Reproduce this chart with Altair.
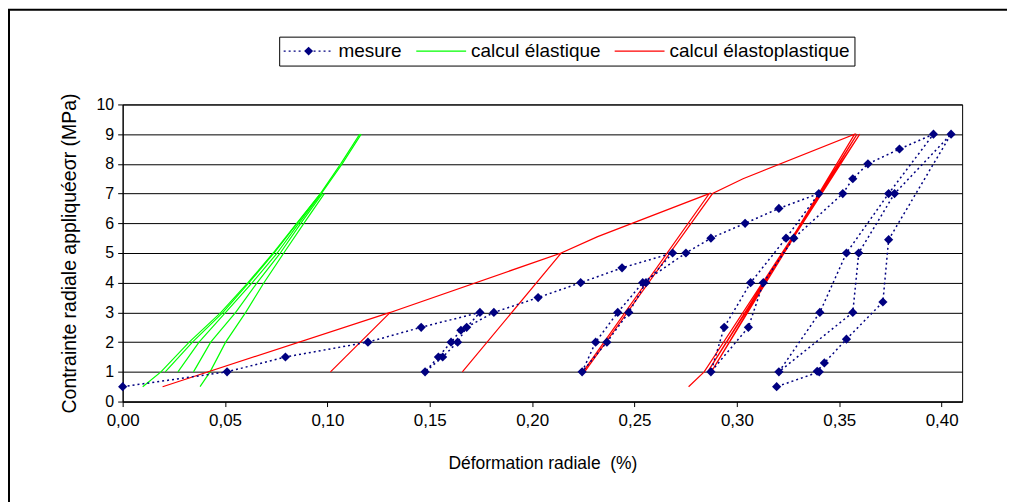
import altair as alt
import pandas as pd

# ---------------- data ----------------
# mesure (ordered test path)
mes_x = [0.000, 0.051, 0.0795, 0.1198, 0.1458, 0.1745, 0.168, 0.1636, 0.1563, 0.1477,
         0.1542, 0.1604, 0.1652, 0.1813, 0.2029, 0.2237, 0.2439, 0.2686, 0.2556, 0.2472,
         0.2365, 0.2244, 0.231, 0.2418, 0.254, 0.2751, 0.2873, 0.304, 0.3205, 0.340,
         0.324, 0.3067, 0.2938, 0.2873, 0.3056, 0.3129, 0.3278, 0.3517, 0.3566, 0.364,
         0.3794, 0.396, 0.3741, 0.3535, 0.3405, 0.3205, 0.3566, 0.3595, 0.377, 0.4046,
         0.3741, 0.3713, 0.3535, 0.3427, 0.3392, 0.3402, 0.3194]
mes_y = [0.5, 1, 1.5, 2, 2.5, 3, 2.5, 2, 1.5, 1,
         1.5, 2, 2.4, 3, 3.5, 4, 4.5, 5, 4, 3,
         2, 1, 2, 3, 4, 5, 5.5, 6, 6.5, 7,
         5.5, 4, 2.5, 1, 2.5, 4, 5.5, 7, 7.5, 8,
         8.5, 9, 7, 5, 3, 1, 3, 5, 7, 9,
         5.45, 3.35, 2.1, 1.3, 1.02, 1.0, 0.5]

# calcul élastoplastique (ordered path)
ep_x = [0.0195, 0.1307, 0.1015, 0.1307, 0.2142, 0.1659, 0.2142, 0.232, 0.2865, 0.2248,
        0.2256, 0.2881, 0.303, 0.3575, 0.2875, 0.3587, 0.2857, 0.3600, 0.284, 0.2764]
ep_y = [0.5, 3, 1, 3, 5, 1, 5, 5.55, 7, 1,
        1, 7, 7.5, 9, 1, 9, 1, 9, 1, 0.5]

# calcul élastique (several curves)
el_id = ([1] * 10) + ([2] * 7) + ([3] * 9) + ([4] * 7) + ([5] * 8)
el_x = [0.0098, 0.0187, 0.0325, 0.0480, 0.0612, 0.0735, 0.0850, 0.0966, 0.1065, 0.1158,
        0.0208, 0.0341, 0.0490, 0.0617, 0.0739, 0.0852, 0.0966,
        0.0270, 0.0373, 0.0503, 0.0633, 0.0755, 0.0860, 0.0970, 0.1072, 0.1165,
        0.0346, 0.0430, 0.0552, 0.0657, 0.0770, 0.0870, 0.0975,
        0.0378, 0.0427, 0.0503, 0.0601, 0.0690, 0.0787, 0.0885, 0.0985]
el_y = [0.5, 1, 2, 3, 4, 5, 6, 7, 8, 9,
        1, 2, 3, 4, 5, 6, 7,
        1, 2, 3, 4, 5, 6, 7, 8, 9,
        1, 2, 3, 4, 5, 6, 7,
        0.5, 1, 2, 3, 4, 5, 6, 7]

series = ["mesure", "calcul élastique", "calcul élastoplastique"]
x_ticks = [0.0, 0.05, 0.10, 0.15, 0.20, 0.25, 0.30, 0.35, 0.40]
y_ticks = list(range(0, 11))

# ---------------- tables ----------------
mes = pd.DataFrame({"x": mes_x, "y": mes_y, "i": range(len(mes_x))})
ep = pd.DataFrame({"x": ep_x, "y": ep_y, "i": range(len(ep_x))})
el = pd.DataFrame({"x": el_x, "y": el_y, "g": el_id, "i": range(len(el_x))})
leg = pd.DataFrame({"serie": series, "x": [0.0] * 3, "y": [-5.0] * 3})

FONT = "Liberation Sans"
W, H = 842, 298

xs = alt.Scale(domain=[0, 0.41], nice=False, zero=False)
ys = alt.Scale(domain=[0, 10], nice=False)

x_axis = alt.Axis(values=x_ticks, title="Déformation radiale \u00a0(%)", grid=False,
                  labelExpr="replace(format(datum.value, '.2f'), '.', ',')",
                  labelFlush=False, labelFontSize=17,
                  tickSize=5, labelPadding=6, titlePadding=26, titleFontSize=17.5)
y_axis = alt.Axis(values=y_ticks, title="Contrainte radiale appliquéeσr (MPa)",
                  grid=True, gridColor="black", gridWidth=1, tickSize=5,
                  labelPadding=4, titlePadding=17, titleFontSize=19.5, labelFontSize=16)

X = alt.X("x:Q", scale=xs, axis=x_axis)
Y = alt.Y("y:Q", scale=ys, axis=y_axis)

# legend symbol paths: symbol box is 20px (unit = 10px); the line is drawn
# from -1 to +4 units, i.e. 50px long starting at the symbol's left edge
def hline(a, b, t=0.07):
    return f"M{a:.3f},{-t}H{b:.3f}V{t}H{a:.3f}Z"

dots = []
p = -1.0
while p < 4.0:
    q = min(p + 0.2, 4.0)
    if q < 1.05 or p > 1.95:
        dots.append(hline(p, q))
    p += 0.5
diamond = "M1.5,-0.45L1.95,0L1.5,0.45L1.05,0Z"
mes_sym = " ".join(dots) + " " + diamond
line_sym = hline(-1, 4)

legend_kw = dict(orient="none", legendX=157, legendY=-68, direction="horizontal",
                 columns=3, title=None, symbolSize=400, symbolStrokeWidth=0,
                 labelFont=FONT, labelFontSize=19, labelColor="black", labelLimit=0,
                 labelOffset=35, columnPadding=14, strokeColor="black",
                 fillColor="white", padding=4.5, symbolOpacity=1)

frame = alt.Chart(leg.head(1)).mark_rect(fill=None, stroke="black",
                                         strokeWidth=2).encode(
    x=alt.value(-114), x2=alt.value(W + 200),
    y=alt.value(-95), y2=alt.value(H + 200))

green = alt.Chart(el).mark_line(color="#00FF00", strokeWidth=1.2).encode(
    x=X, y=Y, detail="g:N", order="i:Q")

red = alt.Chart(ep).mark_line(color="#FF0000", strokeWidth=1.2).encode(
    x=X, y=Y, order="i:Q")

mes_line = alt.Chart(mes).mark_line(color="#000080", strokeWidth=1.5,
                                    strokeDash=[2, 3]).encode(x=X, y=Y, order="i:Q")
mes_pts = alt.Chart(mes).mark_point(shape="diamond", filled=True, size=85,
                                    color="#000080", opacity=1).encode(x=X, y=Y)

legend_layer = alt.Chart(leg).mark_point(filled=True, clip=True, size=10).encode(
    x=X, y=Y,
    color=alt.Color("serie:N", scale=alt.Scale(domain=series,
                    range=["#000080", "#00FF00", "#FF0000"]),
                    legend=alt.Legend(**legend_kw)),
    shape=alt.Shape("serie:N", scale=alt.Scale(domain=series,
                    range=[mes_sym, line_sym, line_sym]),
                    legend=alt.Legend(**legend_kw)),
)

chart = alt.layer(frame, green, red, mes_line, mes_pts, legend_layer).properties(
    width=W, height=H,
    autosize=alt.AutoSizeParams(type="none"),
    padding={"left": 115, "top": 96, "right": 45, "bottom": 100},
).configure_view(stroke="black", strokeWidth=1).configure_axis(
    labelFont=FONT, titleFont=FONT,
    titleFontWeight="normal", labelColor="black", titleColor="black",
    domainColor="black", tickColor="black",
)

chart.save("out.html", embed_options={"renderer": "svg", "actions": False})
